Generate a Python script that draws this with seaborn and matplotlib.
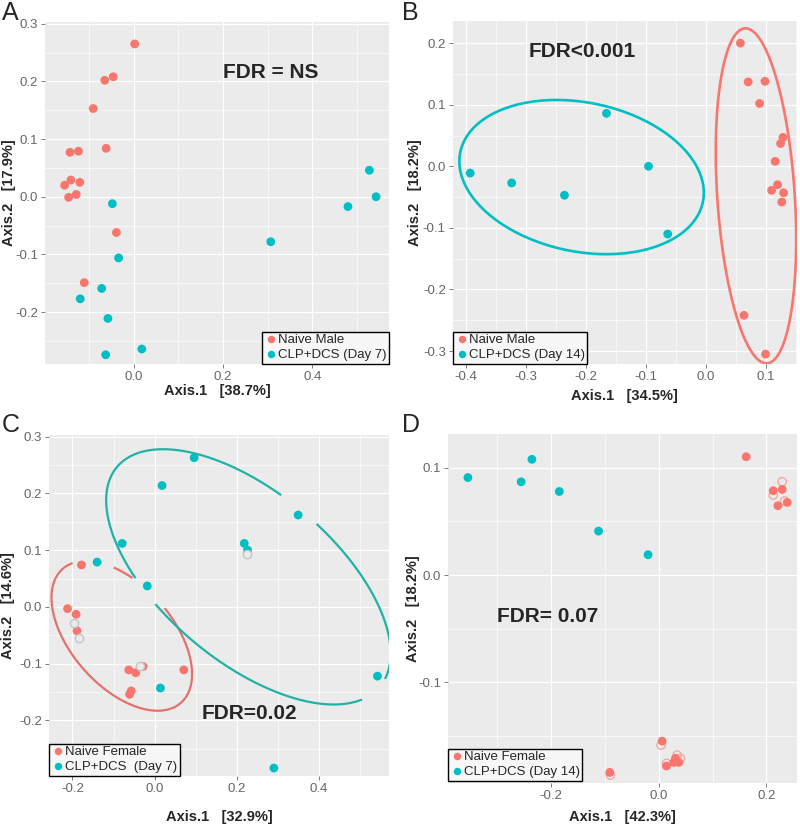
import numpy as np
import pandas as pd
import seaborn as sns
import matplotlib.pyplot as plt
from matplotlib.ticker import MultipleLocator

# ---- data ----
a_red_x = [0.002, -0.065, -0.046, -0.091, -0.143, -0.124, -0.062, -0.155, -0.141, -0.121, -0.146, -0.129, -0.039, -0.111]
a_red_y = [0.265, 0.202, 0.208, 0.153, 0.077, 0.079, 0.084, 0.020, 0.029, 0.025, -0.001, 0.004, -0.062, -0.149]
a_cyan_x = [-0.048, -0.034, -0.072, -0.120, -0.058, -0.063, 0.018, 0.307, 0.480, 0.528, 0.543]
a_cyan_y = [-0.012, -0.106, -0.159, -0.177, -0.211, -0.274, -0.264, -0.078, -0.017, 0.046, 0.000]

b_red_x = [0.057, 0.070, 0.098, 0.089, 0.128, 0.124, 0.115, 0.119, 0.109, 0.129, 0.126, 0.063, 0.099]
b_red_y = [0.200, 0.137, 0.138, 0.102, 0.047, 0.037, 0.008, -0.030, -0.039, -0.043, -0.058, -0.242, -0.305]
b_cyan_x = [-0.393, -0.324, -0.236, -0.166, -0.096, -0.064]
b_cyan_y = [-0.011, -0.027, -0.047, 0.086, 0.000, -0.110]

c_red_x = [-0.178, -0.212, -0.191, -0.189, -0.063, -0.046, -0.028, 0.071, -0.057, -0.061]
c_red_y = [0.074, -0.003, -0.013, -0.042, -0.111, -0.116, -0.105, -0.111, -0.148, -0.154]
c_cyan_x = [0.096, 0.018, 0.349, -0.079, 0.218, 0.226, -0.140, -0.018, 0.014, 0.542, 0.290]
c_cyan_y = [0.263, 0.214, 0.162, 0.112, 0.112, 0.100, 0.079, 0.037, -0.143, -0.122, -0.284]
c_ring_x = [0.225, -0.195, -0.185, -0.036]
c_ring_y = [0.093, -0.028, -0.055, -0.104]

d_red_x = [0.1625, 0.2128, 0.2295, 0.2215, 0.2388, 0.0062, 0.0143, 0.031, 0.0372, 0.0279, -0.0912]
d_red_y = [0.1104, 0.0787, 0.0799, 0.0647, 0.0678, -0.1549, -0.1782, -0.171, -0.1748, -0.1748, -0.1841]
d_cyan_x = [-0.355, -0.236, -0.256, -0.185, -0.112, -0.020]
d_cyan_y = [0.091, 0.108, 0.087, 0.078, 0.041, 0.019]
d_ring_x = [0.2295, 0.2128, 0.2339, 0.0043, 0.0143, 0.0341, 0.0403, -0.090]
d_ring_y = [0.0871, 0.0747, 0.069, -0.1586, -0.1757, -0.168, -0.171, -0.1866]

# ellipses: centre x, centre y, half-width, half-height, correlation
b_ell_cyan = [-0.2075, -0.0175, 0.2036, 0.1252, -0.204]
b_ell_red = [0.083, -0.048, 0.067, 0.272, -0.26]
c_ell_red = [-0.080, -0.051, 0.171, 0.132, -0.51]
c_ell_cyan = [0.228, 0.053, 0.346, 0.225, -0.60]

RED = "#F8766D"
CYAN = "#00BFC4"
BG = "#EBEBEB"

sns.set_theme(style="darkgrid", rc={"axes.facecolor": BG, "grid.color": "white"})
plt.rcParams["font.family"] = ["Liberation Sans", "DejaVu Sans"]


def ellipse_xy(p, n=400):
    cx, cy, sx, sy, rho = p
    t = np.linspace(0, 2 * np.pi, n)
    x = cx + sx * np.cos(t)
    y = cy + sy * (rho * np.cos(t) + np.sqrt(1 - rho ** 2) * np.sin(t))
    return x, y


def draw_ellipse(ax, p, color, lw, gaps=()):
    x, y = ellipse_xy(p)
    for x0, x1, y0, y1 in gaps:
        m = (x > x0) & (x < x1) & (y > y0) & (y < y1)
        y = np.where(m, np.nan, y)
    ax.plot(x, y, color=color, lw=lw, solid_capstyle="butt", zorder=2)


def panel(ax, red_x, red_y, cyan_x, cyan_y, labels, xlim, ylim, xstep, ystep,
          xlabel, ylabel, xlab_pos, ylab_pos, legend_loc, legend_anchor):
    df = pd.DataFrame({
        "x": red_x + cyan_x,
        "y": red_y + cyan_y,
        "group": [labels[0]] * len(red_x) + [labels[1]] * len(cyan_x),
    })
    sns.scatterplot(data=df, x="x", y="y", hue="group", hue_order=labels,
                    palette=[RED, CYAN], s=40, linewidth=0, ax=ax, zorder=3)
    ax.set_xlim(xlim)
    ax.set_ylim(ylim)
    ax.xaxis.set_major_locator(MultipleLocator(xstep))
    ax.yaxis.set_major_locator(MultipleLocator(ystep))
    ax.xaxis.set_minor_locator(MultipleLocator(xstep / 2))
    ax.yaxis.set_minor_locator(MultipleLocator(ystep / 2))
    ax.grid(which="major", color="white", lw=0.9)
    ax.grid(which="minor", color="white", lw=0.45)
    ax.xaxis.set_major_formatter(plt.FuncFormatter(lambda v, _: f"{v:.1f}"))
    ax.yaxis.set_major_formatter(plt.FuncFormatter(lambda v, _: f"{v:.1f}"))
    ax.tick_params(axis="both", which="major", labelsize=9.5, labelcolor="#666666",
                   length=3, width=0.6, color="#666666", pad=2, bottom=True, left=True)
    ax.set_xlabel(xlabel, fontsize=10.5, fontweight="bold")
    ax.set_ylabel(ylabel, fontsize=10.5, fontweight="bold")
    ax.xaxis.set_label_coords(0.5, xlab_pos, transform=ax.transAxes)
    ax.yaxis.set_label_coords(ylab_pos, 0.5, transform=ax.transAxes)
    ax.xaxis.label.set_va("center")
    ax.yaxis.label.set_va("center")
    for s in ax.spines.values():
        s.set_visible(False)
    handles, labs = ax.get_legend_handles_labels()
    leg = ax.legend(handles, labs, loc=legend_loc, bbox_to_anchor=legend_anchor,
                    fontsize=9.5, frameon=True, fancybox=False, borderaxespad=0,
                    borderpad=0.2, handletextpad=0.0, labelspacing=0.2,
                    handlelength=1.0, markerscale=0.85, title=None)
    leg.get_frame().set_edgecolor("black")
    leg.get_frame().set_linewidth(1.0)
    leg.get_frame().set_facecolor("#F7F7F7")
    leg.get_frame().set_alpha(1)
    leg.set_zorder(5)


fig = plt.figure(figsize=(8, 8.25), dpi=100)
axA = fig.add_axes([0.05625, 0.5588, 0.43, 0.4145])
axB = fig.add_axes([0.566, 0.5588, 0.43, 0.4158])
axC = fig.add_axes([0.06125, 0.0594, 0.425, 0.4133])
axD = fig.add_axes([0.56, 0.0509, 0.43625, 0.423])

# A
panel(axA, a_red_x, a_red_y, a_cyan_x, a_cyan_y, ["Naive Male", "CLP+DCS (Day 7)"],
      (-0.199, 0.572), (-0.290, 0.303), 0.2, 0.1,
      "Axis.1   [38.7%]", "Axis.2   [17.9%]", -0.079, -0.105, "lower right", (1.0, 0.0))
axA.text(0.306, 0.216, "FDR = NS", fontsize=15, fontweight="bold", ha="center", va="center")

# B
draw_ellipse(axB, b_ell_cyan, CYAN, 1.9)
draw_ellipse(axB, b_ell_red, RED, 1.9)
panel(axB, b_red_x, b_red_y, b_cyan_x, b_cyan_y, ["Naive Male", "CLP+DCS (Day 14)"],
      (-0.422, 0.151), (-0.321, 0.236), 0.1, 0.1,
      "Axis.1   [34.5%]", "Axis.2   [18.2%]", -0.093, -0.11, "lower left", (0.0, 0.0))
axB.text(-0.206, 0.186, "FDR<0.001", fontsize=15, fontweight="bold", ha="center", va="center")

# C
draw_ellipse(axC, c_ell_red, "#E2726C", 1.6,
             gaps=[(-0.1995, -0.0998, 0.05, 0.13), (-0.0649, 0.0243, -0.03, 0.05)])
draw_ellipse(axC, c_ell_cyan, "#20B2A6", 1.6,
             gaps=[(-0.0446, 0.0, -0.01, 0.07), (0.311, 0.393, 0.12, 0.23), (0.507, 0.56, -0.17, -0.10)])
panel(axC, c_red_x, c_red_y, c_cyan_x, c_cyan_y, ["Naive Female", "CLP+DCS  (Day 7)"],
      (-0.257, 0.570), (-0.298, 0.303), 0.2, 0.1,
      "Axis.1   [32.9%]", "Axis.2   [14.6%]", -0.12, -0.12, "lower left", (0.0, 0.0))
axC.scatter(c_ring_x, c_ring_y, s=36, facecolors=BG, edgecolors="#c4c4c4", linewidths=1.0, zorder=4)
axC.text(0.230, -0.188, "FDR=0.02", fontsize=15, fontweight="bold", ha="center", va="center")

# D
axD.scatter(d_ring_x, d_ring_y, s=36, facecolors="none", edgecolors="#F6A8A2", linewidths=1.0, zorder=2)
panel(axD, d_red_x, d_red_y, d_cyan_x, d_cyan_y, ["Naive Female", "CLP+DCS (Day 14)"],
      (-0.392, 0.257), (-0.194, 0.1316), 0.2, 0.1,
      "Axis.1   [42.3%]", "Axis.2   [18.2%]", -0.097, -0.10, "lower left", (0.0, 0.006))
axD.text(-0.207, -0.039, "FDR= 0.07", fontsize=15, fontweight="bold", ha="center", va="center")

for letter, (fx, fy) in zip("ABCD", [(0.002, 0.999), (0.503, 0.999), (0.002, 0.5), (0.503, 0.5)]):
    fig.text(fx, fy, letter, fontsize=18, ha="left", va="top")

fig.savefig("out.png", dpi=100, facecolor="white")
